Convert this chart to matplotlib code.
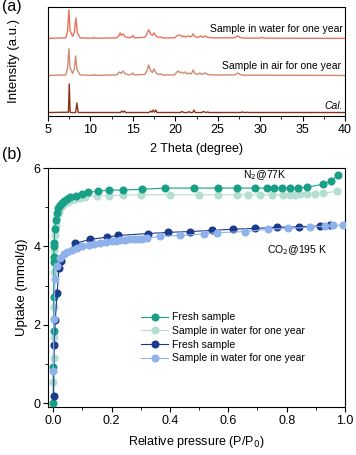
import matplotlib
matplotlib.use('Agg')
import matplotlib.pyplot as plt
from matplotlib.ticker import MultipleLocator

plt.rcParams['font.family'] = ['Liberation Sans', 'DejaVu Sans']

# ---- panel (a): PXRD traces (2 theta, intensity above own baseline) ----
water_x = [5.0, 7.1, 7.3, 7.45, 7.6, 7.9, 8.1, 8.28, 8.45, 8.8, 10.3, 10.45, 10.6,
           13.1, 13.35, 13.5, 13.65, 13.85, 14.1, 14.6, 14.85, 15.0, 15.15, 16.4,
           16.65, 16.85, 17.1, 17.3, 17.5, 17.7, 18.0, 18.3, 18.5, 19.9, 20.2,
           20.45, 20.7, 20.85, 21.0, 21.2, 21.4, 21.55, 21.8, 21.95, 22.1, 22.3,
           22.6, 22.8, 23.0, 23.2, 23.5, 23.8, 24.5, 26.9, 27.2, 27.4, 27.6, 28.0,
           29.9, 30.2, 30.5, 40.0]
water_y = [0.5, 1.0, 8, 29, 8, 2.5, 7, 21, 6, 1.0, 0.6, 1.5, 0.6,
           1.0, 3, 6, 3.5, 5, 2, 1.0, 2, 3.5, 1.0, 1.5,
           5, 9, 5, 3.5, 6, 3, 1.5, 2, 1.0, 1.0, 3,
           4, 3, 2, 3, 1.8, 2.5, 3, 2, 3, 5, 2.5,
           1.5, 2, 3, 1.5, 3, 1.5, 1.0, 1.0, 2, 3, 1.5, 0.8,
           0.8, 1.5, 0.7, 0.5]

air_x = [5.0, 7.1, 7.3, 7.45, 7.6, 7.9, 8.1, 8.25, 8.42, 8.8, 10.3, 10.45, 10.6,
         13.1, 13.3, 13.45, 13.65, 13.85, 14.1, 14.6, 14.85, 15.0, 15.15, 16.4,
         16.65, 16.85, 17.1, 17.3, 17.5, 17.7, 18.0, 18.3, 18.5, 19.9, 20.1,
         20.3, 20.5, 20.65, 20.85, 21.1, 21.35, 21.6, 21.8, 21.95, 22.1, 22.3,
         22.6, 22.9, 23.1, 23.25, 23.5, 23.8, 24.5, 26.9, 27.2, 27.4, 27.6, 28.0,
         40.0]
air_y = [0.5, 1.0, 8, 27, 8, 2.5, 7, 20, 6, 1.0, 0.6, 1.5, 0.6,
         1.0, 3, 4, 2.5, 5, 2, 1.0, 2, 3, 1.0, 1.5,
         5, 11, 5, 3.5, 7, 3, 1.5, 2, 1.0, 1.0, 3,
         5, 3.5, 4, 2.5, 4, 2, 3, 2, 3, 6, 2.5,
         1.5, 3, 1.5, 2, 3, 1.5, 1.0, 1.0, 2, 3, 1.5, 0.8,
         0.5]

cal_x = [5.0, 7.4, 7.5, 7.6, 7.7, 8.25, 8.4, 8.55, 13.55, 13.7, 13.85, 14.0, 14.15,
         16.9, 17.1, 17.25, 17.4, 17.55, 17.7, 17.85, 20.6, 20.8, 21.0, 21.45,
         21.6, 21.75, 22.05, 22.2, 22.35, 23.15, 23.3, 23.6, 23.8, 24.0, 27.7,
         27.9, 28.1, 28.3, 28.45, 28.6, 40.0]
cal_y = [0.5, 0.8, 29, 0.8, 0.5, 0.5, 10, 0.5, 0.5, 2, 0.8, 2, 0.5,
         0.5, 2, 0.8, 3, 0.8, 3, 0.5, 0.5, 1.5, 0.5, 0.5,
         1.5, 0.5, 0.5, 3, 0.5, 0.5, 1.5, 0.5, 1.0, 0.5, 0.5,
         1.0, 0.5, 0.5, 0.8, 0.5, 0.5]

# ---- panel (b): isotherms (P/P0, uptake mmol/g) ----
n2_fresh_p = [0.000, 0.000, 0.001, 0.001, 0.002, 0.002, 0.003, 0.003, 0.005, 0.008,
              0.012, 0.017, 0.023, 0.030, 0.038, 0.047, 0.058, 0.079, 0.099, 0.120,
              0.154, 0.192, 0.240, 0.305, 0.384, 0.483, 0.565, 0.630, 0.692, 0.733,
              0.757, 0.784, 0.812, 0.839, 0.870, 0.925, 0.952, 0.976]
n2_fresh_u = [0.00, 0.93, 1.83, 2.72, 3.60, 3.73, 4.00, 4.08, 4.45, 4.68,
              4.85, 4.97, 5.06, 5.12, 5.17, 5.21, 5.26, 5.28, 5.33, 5.38,
              5.41, 5.44, 5.44, 5.46, 5.49, 5.49, 5.49, 5.49, 5.49, 5.49,
              5.49, 5.49, 5.49, 5.50, 5.51, 5.59, 5.67, 5.82]

n2_water_p = [0.000, 0.000, 0.001, 0.001, 0.002, 0.003, 0.004, 0.006, 0.009, 0.013,
              0.018, 0.024, 0.031, 0.040, 0.050, 0.062, 0.075, 0.090, 0.110, 0.150,
              0.190, 0.240, 0.300, 0.400, 0.500, 0.565, 0.630, 0.668, 0.709, 0.750,
              0.788, 0.812, 0.829, 0.846, 0.870, 0.897, 0.925, 0.973]
n2_water_u = [0.00, 0.55, 1.15, 1.70, 2.45, 3.35, 3.90, 4.30, 4.55, 4.75,
              4.88, 4.97, 5.04, 5.10, 5.14, 5.18, 5.21, 5.24, 5.26, 5.29,
              5.30, 5.31, 5.32, 5.32, 5.32, 5.32, 5.32, 5.32, 5.32, 5.32,
              5.32, 5.32, 5.32, 5.33, 5.33, 5.34, 5.36, 5.41]

co2_fresh_p = [0.001, 0.003, 0.007, 0.013, 0.020, 0.027, 0.075, 0.127, 0.185, 0.222,
               0.325, 0.394, 0.469, 0.543, 0.616, 0.692, 0.766, 0.842, 0.914, 0.948]
co2_fresh_u = [0.18, 1.49, 2.13, 2.82, 3.46, 3.62, 4.08, 4.18, 4.24, 4.28,
               4.33, 4.36, 4.38, 4.41, 4.44, 4.46, 4.49, 4.50, 4.52, 4.54]

co2_water_p = [0.000, 0.002, 0.006, 0.012, 0.024, 0.035, 0.047, 0.064, 0.082, 0.100,
               0.121, 0.140, 0.160, 0.182, 0.200, 0.215, 0.230, 0.245, 0.260, 0.275,
               0.290, 0.305, 0.320, 0.366, 0.435, 0.515, 0.560, 0.658, 0.737, 0.806,
               0.880, 0.930, 0.960, 0.994]
co2_water_u = [0.83, 2.15, 3.18, 3.50, 3.70, 3.80, 3.86, 3.92, 3.97, 4.00,
               4.03, 4.06, 4.10, 4.11, 4.14, 4.15, 4.16, 4.17, 4.18, 4.18,
               4.19, 4.20, 4.21, 4.26, 4.28, 4.32, 4.35, 4.38, 4.44, 4.46,
               4.49, 4.52, 4.54, 4.54]

fig = plt.figure(figsize=(3.56, 4.55), dpi=100)

# panel (a)
ax1 = fig.add_axes([0.135, 0.745, 0.834, 0.240])
ax1.plot(water_x, [v + 77 for v in water_y], color='#e8735c', lw=1.0)
ax1.plot(air_x, [v + 40 for v in air_y], color='#cf8a70', lw=1.0)
ax1.plot(cal_x, [v + 3 for v in cal_y], color='#8c3216', lw=1.0)
ax1.set_xlim(5, 40)
ax1.set_ylim(0, 109)
ax1.set_yticks([])
ax1.xaxis.set_major_locator(MultipleLocator(5))
ax1.xaxis.set_minor_locator(MultipleLocator(2.5))
ax1.tick_params(axis='x', which='major', direction='out', length=3.5, labelsize=9, pad=2)
ax1.tick_params(axis='x', which='minor', direction='out', length=2)
ax1.set_xlabel('2 Theta (degree)', fontsize=9, labelpad=5)
ax1.set_ylabel('Intensity (a.u.)', fontsize=9.5, labelpad=20)
ax1.text(0.993, 0.80, 'Sample in water for one year', transform=ax1.transAxes,
         ha='right', va='center', fontsize=7.5)
ax1.text(0.985, 0.46, 'Sample in air for one year', transform=ax1.transAxes,
         ha='right', va='center', fontsize=7.5)
ax1.text(0.993, 0.09, 'Cal.', transform=ax1.transAxes, ha='right', va='center',
         fontsize=7.5, style='italic')
fig.text(0.005, 0.985, '(a)', fontsize=11.5, va='center', ha='left')

# panel (b)
ax2 = fig.add_axes([0.135, 0.1055, 0.834, 0.525])
ms = 4.8
ax2.plot(n2_water_p, n2_water_u, '-o', color='#b5ded2', ms=ms, lw=0.8,
         label='Sample in water for one year', zorder=2)
ax2.plot(n2_fresh_p, n2_fresh_u, '-o', color='#17a085', ms=ms, lw=0.8,
         label='Fresh sample', zorder=3)
ax2.plot(co2_fresh_p, co2_fresh_u, '-o', color='#1a3b8b', ms=ms, lw=0.8,
         label='Fresh sample', zorder=4)
ax2.plot(co2_water_p, co2_water_u, '-o', color='#8fb2ea', ms=ms, lw=0.8,
         label='Sample in water for one year', zorder=5)
ax2.set_xlim(-0.018, 1.0)
ax2.set_ylim(-0.1, 6.0)
ax2.xaxis.set_major_locator(MultipleLocator(0.2))
ax2.xaxis.set_minor_locator(MultipleLocator(0.1))
ax2.yaxis.set_major_locator(MultipleLocator(2))
ax2.yaxis.set_minor_locator(MultipleLocator(1))
ax2.xaxis.set_major_formatter(plt.FormatStrFormatter('%.1f'))
ax2.tick_params(which='major', direction='out', length=3.5, labelsize=9, pad=2)
ax2.tick_params(which='minor', direction='out', length=2)
ax2.set_xlabel('Relative pressure (P/P$_0$)', fontsize=9, labelpad=5)
ax2.set_ylabel('Uptake (mmol/g)', fontsize=9.5, labelpad=4)
ax2.text(0.73, 0.97, 'N$_2$@77K', transform=ax2.transAxes, ha='center',
         va='center', fontsize=7.5)
ax2.text(0.84, 0.655, 'CO$_2$@195 K', transform=ax2.transAxes, ha='center',
         va='center', fontsize=7.5)
handles, labels = ax2.get_legend_handles_labels()
order = [1, 0, 2, 3]
ax2.legend([handles[i] for i in order], [labels[i] for i in order],
           loc='center left', bbox_to_anchor=(0.30, 0.29), frameon=False,
           fontsize=7.5, handlelength=2.6, handletextpad=0.3, labelspacing=0.35,
           borderaxespad=0)
fig.text(0.005, 0.66, '(b)', fontsize=11.5, va='center', ha='left')

fig.savefig('out.png', dpi=100)
